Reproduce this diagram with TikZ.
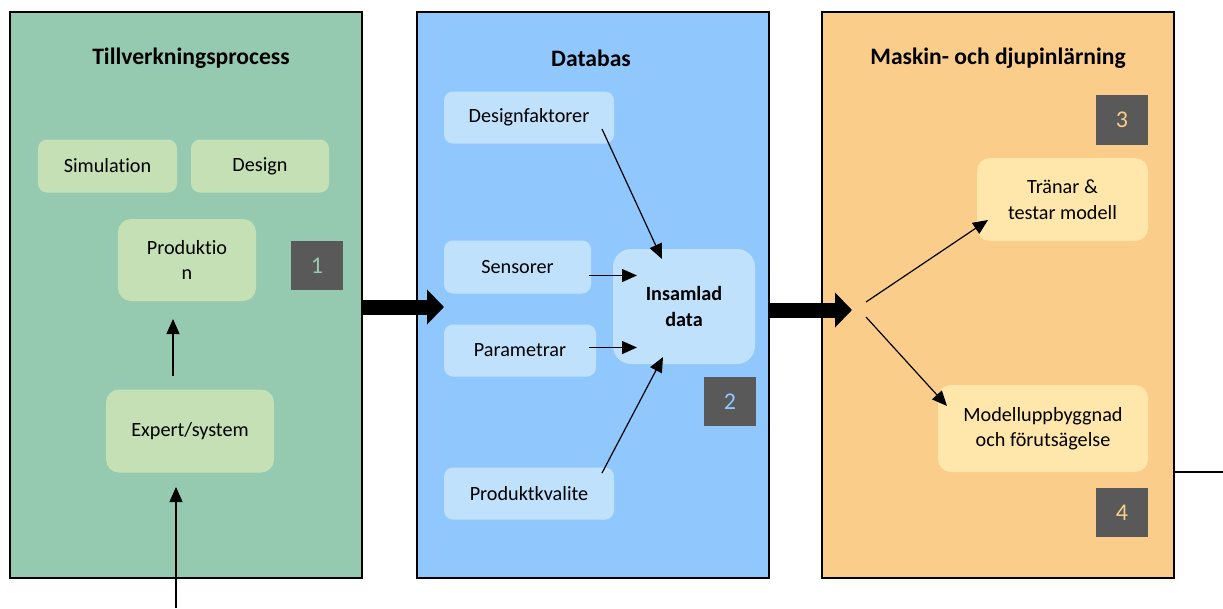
\documentclass[tikz,border=0pt]{standalone}
\usepackage{fontspec}
\setmainfont{Carlito}[RawFeature={-liga;-clig;-calt;-dlig}]
\usetikzlibrary{arrows.meta}
\definecolor{pgreen}{HTML}{95CAB0}
\definecolor{bgreen}{HTML}{C5E0B4}
\definecolor{pblue}{HTML}{90C8FD}
\definecolor{bblue}{HTML}{C0E1FC}
\definecolor{porange}{HTML}{FBCD8A}
\definecolor{borange}{HTML}{FFE7AB}
\definecolor{numgray}{HTML}{595959}
\begin{document}
\begin{tikzpicture}[x=1pt,y=-1pt,
  every node/.style={font=\fontsize{20.2}{25.5}\selectfont, align=center, inner sep=0pt, outer sep=0pt},
  panel/.style={draw=black, line width=2pt, rectangle},
  ptitle/.style={font=\fontsize{23.6}{28}\selectfont\bfseries},
  ibox/.style={rectangle, rounded corners=9pt},
  numbox/.style={rectangle, fill=numgray, minimum width=52pt, minimum height=49pt, font=\fontsize{24}{28}\selectfont},
  conn/.style={line width=1.2pt, -{Triangle[length=15pt,width=13pt]}},
  fat/.style={line width=15pt, -{Triangle[length=17pt,width=34pt]}}
]
\useasboundingbox (0,0) rectangle (1223,608);

% panels
\node[panel, fill=pgreen, minimum width=352pt, minimum height=566pt] (p1) at (186,295) {};
\node[panel, fill=pblue, minimum width=352pt, minimum height=566pt] (p2) at (593,295) {};
\node[panel, fill=porange, minimum width=352pt, minimum height=566pt] (p3) at (998,295) {};

\node[ptitle] (t1) at (191,58) {Tillverkningsprocess};
\node[ptitle] (t2) at (591,58) {Databas};
\node[ptitle] (t3) at (998,58) {Maskin- och djupinlärning};

% panel 1
\node[ibox, fill=bgreen, minimum width=139pt, minimum height=53pt] (sim) at (107.5,166) {Simulation};
\node[ibox, fill=bgreen, minimum width=138pt, minimum height=53pt] (des) at (260,166) {Design};
\node[ibox, fill=bgreen, rounded corners=13pt, minimum width=138pt, minimum height=82pt] (prod) at (187,260) {Produktio\\n};
\node[numbox, text=pgreen] (n1) at (317,265.5) {1};
\node[ibox, fill=bgreen, rounded corners=13pt, minimum width=168pt, minimum height=83pt] (exp) at (190,431) {Expert/system};

\coordinate (ea) at (173,376);
\coordinate (eb) at (173,319);
\draw[conn] (ea) -- (eb);
\coordinate (ia) at (176,608);
\coordinate (ib) at (176,487);
\draw[conn] (ia) -- (ib);

% panel 2
\node[ibox, fill=bblue, minimum width=170pt, minimum height=52pt] (df) at (529,117.5) {Designfaktorer};
\node[ibox, fill=bblue, minimum width=147pt, minimum height=53pt] (sen) at (517.5,267) {Sensorer};
\node[ibox, fill=bblue, minimum width=152pt, minimum height=52pt] (par) at (520,350.5) {Parametrar};
\node[ibox, fill=bblue, minimum width=170pt, minimum height=52pt] (pk) at (529,493.5) {Produktkvalite};
\node[ibox, fill=bblue, rounded corners=18pt, minimum width=142pt, minimum height=115pt, font=\fontsize{20.2}{26}\selectfont\bfseries] (ins) at (684,306.5) {Insamlad\\data};
\node[numbox, text=pblue] (n2) at (730,401.5) {2};

\coordinate (dfa) at (602,129);
\coordinate (dfb) at (662,259);
\draw[conn] (dfa) -- (dfb);
\coordinate (sena) at (589,275.5);
\coordinate (senb) at (637,275.5);
\draw[conn] (sena) -- (senb);
\coordinate (para) at (589,347.5);
\coordinate (parb) at (637,347.5);
\draw[conn] (para) -- (parb);
\coordinate (pka) at (602,473);
\coordinate (pkb) at (663,357);
\draw[conn] (pka) -- (pkb);

% panel 3
\node[numbox, text=porange, minimum height=50pt] (n3) at (1122,120) {3};
\node[ibox, fill=borange, rounded corners=13pt, minimum width=171pt, minimum height=83pt] (tr) at (1062.5,199.5) {Tränar \&\\testar modell};
\node[ibox, fill=borange, rounded corners=13pt, minimum width=210pt, minimum height=87pt] (mod) at (1043,428.5) {Modelluppbyggnad\\och förutsägelse};
\node[numbox, text=porange] (n4) at (1122,512.5) {4};

\coordinate (ma) at (866,302);
\coordinate (mb) at (988,220);
\draw[conn] (ma) -- (mb);
\coordinate (mc) at (866,317);
\coordinate (md) at (947,406);
\draw[conn] (mc) -- (md);

% fat arrows
\coordinate (f1b) at (444,307);
\draw[fat] (p1.east |- f1b) -- (f1b);
\coordinate (f2b) at (852,310);
\draw[fat] (p2.east |- f2b) -- (f2b);

% right line
\coordinate (rl) at (1223,472);
\draw[line width=1.2pt] (p3.east |- rl) -- (rl);
\end{tikzpicture}
\end{document}
